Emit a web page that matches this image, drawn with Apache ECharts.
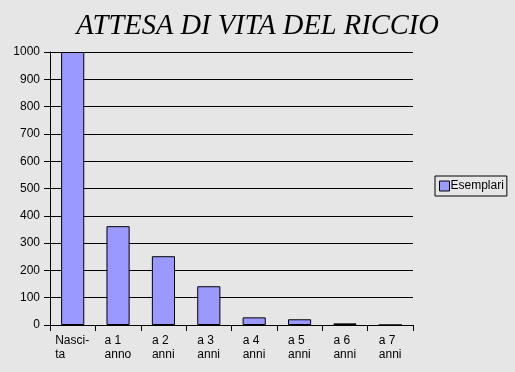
<!DOCTYPE html>
<html><head><meta charset="utf-8">
<script src="https://cdn.jsdelivr.net/npm/echarts@6/dist/echarts.min.js"></script>
<style>html,body{margin:0;padding:0;background:#e6e6e6;}#c{width:515px;height:372px;}</style>
</head><body><div id="c"></div>
<script>
const titleText = 'ATTESA DI VITA DEL RICCIO';
const categories = ['Nasci-\nta', 'a 1\nanno', 'a 2\nanni', 'a 3\nanni', 'a 4\nanni', 'a 5\nanni', 'a 6\nanni', 'a 7\nanni'];
const seriesName = 'Esemplari';
const esemplari = [1000, 362, 252, 142, 28, 21, 6, 0];
const yTicks = {min: 0, max: 1000, interval: 100};

const labelFont = '12px Arial, "Liberation Sans", sans-serif';
const cv = document.createElement('canvas').getContext('2d');
cv.font = labelFont;
const rich = {};
categories.forEach((c, i) => {
  const w = Math.max(...c.split('\n').map(s => cv.measureText(s).width));
  rich['c' + i] = {width: Math.ceil(w), align: 'left', fontSize: 12, lineHeight: 14, color: '#000', fontFamily: 'Arial, "Liberation Sans", sans-serif'};
});

const chart = echarts.init(document.getElementById('c'), null, {renderer: 'canvas'});
chart.setOption({
  backgroundColor: '#e6e6e6',
  animation: false,
  title: {
    text: titleText, left: 'center', top: 7,
    textStyle: {fontFamily: '"Liberation Serif", "Times New Roman", serif', fontStyle: 'italic', fontWeight: 'normal', fontSize: 28.5, color: '#000'}
  },
  legend: {
    data: [seriesName], left: 435, top: 176, orient: 'vertical', icon: 'rect',
    padding: [4, 3, 4, 4], itemWidth: 10, itemHeight: 10, itemGap: 2,
    borderColor: '#000', borderWidth: 1, backgroundColor: '#e6e6e6',
    itemStyle: {borderColor: '#000', borderWidth: 1},
    textStyle: {fontSize: 12, color: '#000', fontFamily: 'Arial, "Liberation Sans", sans-serif', padding: [0, 0, 0, -4]}
  },
  grid: {left: 50, right: 102, top: 52, bottom: 47, containLabel: false},
  xAxis: {
    type: 'category', data: categories, boundaryGap: true,
    axisLine: {lineStyle: {color: '#000', width: 1}},
    axisTick: {show: true, length: 6, lineStyle: {color: '#000'}},
    axisLabel: {
      interval: 0, margin: 9, align: 'center',
      formatter: (v, i) => v.split('\n').map(s => '{c' + i + '|' + s + '}').join('\n'),
      rich: rich
    }
  },
  yAxis: {
    type: 'value', min: yTicks.min, max: yTicks.max, interval: yTicks.interval,
    axisLine: {show: true, lineStyle: {color: '#000', width: 1}},
    axisTick: {show: true, length: 6, lineStyle: {color: '#000'}},
    axisLabel: {margin: 10, color: '#000', fontSize: 12, fontFamily: 'Arial, "Liberation Sans", sans-serif', formatter: v => String(v)},
    splitLine: {show: true, lineStyle: {color: '#000', width: 1}}
  },
  series: [{
    name: seriesName, type: 'bar', data: esemplari, barWidth: '51%',
    itemStyle: {color: '#9999ff', borderColor: '#000', borderWidth: 1}
  }]
});
</script></body></html>
